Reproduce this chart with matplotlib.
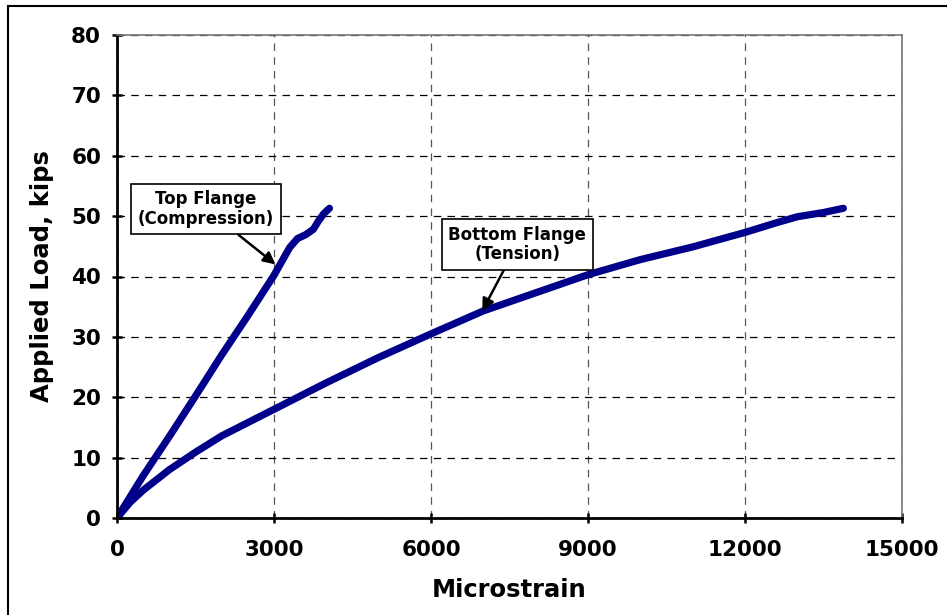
import matplotlib.pyplot as plt
from matplotlib.lines import Line2D

# data
top_strain = [0, 250, 500, 1000, 1500, 2000, 2500, 3000, 3300, 3450, 3600, 3750, 3850, 3950, 4060]
top_load = [0, 3.5, 7, 13.5, 20.2, 27, 33.5, 40.2, 44.8, 46.3, 46.9, 47.8, 49.2, 50.4, 51.3]

bot_strain = [0, 250, 500, 1000, 1500, 2000, 3000, 4000, 5000, 6000, 7000, 8000, 9000,
              10000, 11000, 12000, 12600, 13000, 13500, 13880]
bot_load = [0, 2.6, 4.6, 8.0, 10.9, 13.6, 18.0, 22.4, 26.6, 30.5, 34.3, 37.3, 40.3,
            42.8, 44.9, 47.3, 48.9, 49.9, 50.6, 51.3]

xticks = [0, 3000, 6000, 9000, 12000, 15000]
yticks = [0, 10, 20, 30, 40, 50, 60, 70, 80]

plt.rcParams['font.family'] = 'DejaVu Sans'
plt.rcParams['font.weight'] = 'bold'

fig = plt.figure(figsize=(9.47, 6.15), dpi=100)
ax = fig.add_axes([117 / 947, 1 - 518 / 615, (902 - 117) / 947, (518 - 35) / 615])

navy = '#00008B'
ax.plot(top_strain, top_load, color=navy, lw=5.2, solid_capstyle='round', solid_joinstyle='round')
ax.plot(bot_strain, bot_load, color=navy, lw=5.2, solid_capstyle='round', solid_joinstyle='round')

ax.set_xlim(0, 15000)
ax.set_ylim(0, 80)
ax.set_xticks(xticks)
ax.set_yticks(yticks)
ax.tick_params(labelsize=15.5, width=1.8, length=7, direction='inout')
ax.tick_params(axis='x', pad=12)
ax.tick_params(axis='y', pad=8)
for lab in ax.get_xticklabels() + ax.get_yticklabels():
    lab.set_fontweight('bold')

ax.grid(True, color='black', ls=(0, (6, 5)), lw=0.9)
ax.xaxis.grid(True, color='#555555')
for s in ['left', 'bottom']:
    ax.spines[s].set_linewidth(2)
for s in ['top', 'right']:
    ax.spines[s].set_color('#777777')
    ax.spines[s].set_linewidth(1.2)

ax.set_xlabel('Microstrain', fontsize=17.5, fontweight='bold', labelpad=13)
ax.set_ylabel('Applied Load, kips', fontsize=17.5, fontweight='bold', labelpad=12)

box = dict(boxstyle='square,pad=0.4', fc='white', ec='black', lw=1.2)
arr = dict(arrowstyle='-|>', color='black', lw=1.8, mutation_scale=18, shrinkA=0, shrinkB=0)
ax.annotate('Top Flange\n(Compression)', xy=(3030, 42), xytext=(1700, 51.2),
            ha='center', va='center', fontsize=12, fontweight='bold',
            bbox=box, arrowprops=arr, linespacing=1.1)
ax.annotate('Bottom Flange\n(Tension)', xy=(6980, 34.3), xytext=(7650, 45.3),
            ha='center', va='center', fontsize=12, fontweight='bold',
            bbox=box, arrowprops=arr, linespacing=1.1)

# frame around the figure (top and left edges visible)
fig.add_artist(Line2D([8 / 947, 8 / 947], [0, 1 - 6 / 615], color='black', lw=1.5, transform=fig.transFigure))
fig.add_artist(Line2D([8 / 947, 1], [1 - 6 / 615, 1 - 6 / 615], color='black', lw=1.5, transform=fig.transFigure))

fig.savefig('out.png', dpi=100)
